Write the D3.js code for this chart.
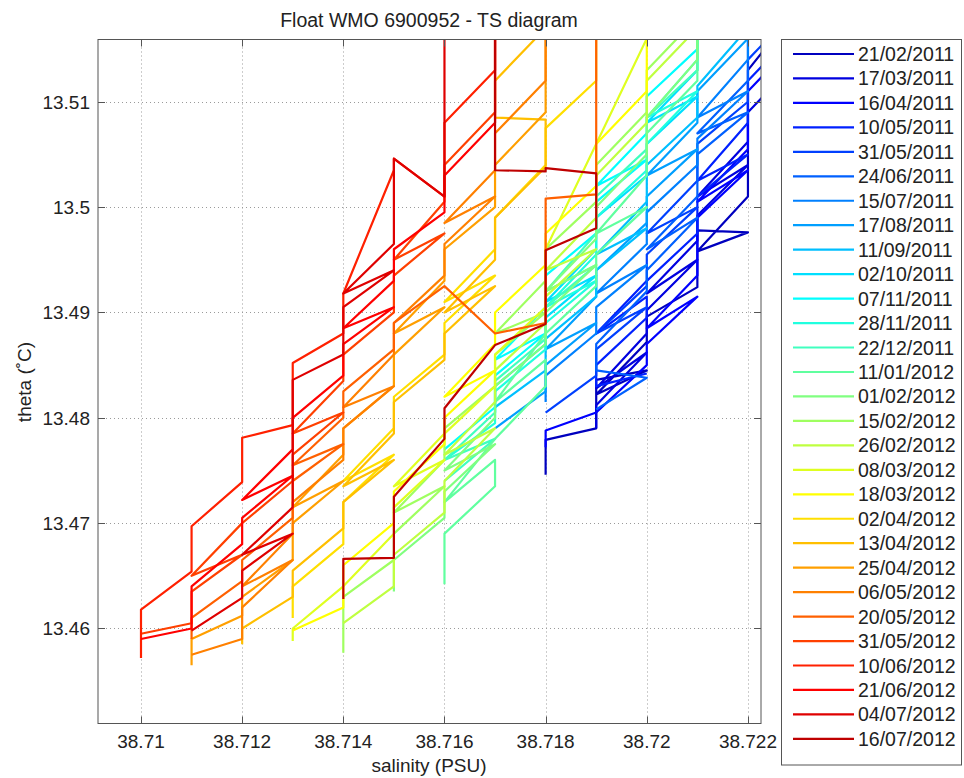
<!DOCTYPE html>
<html lang="en">
<head>
<meta charset="UTF-8">
<title>Float WMO 6900952 - TS diagram</title>
<style>
  body { margin: 0; background: #fff; }
  text { font-family: "Liberation Sans", Arial, sans-serif; fill: #222; }
</style>
</head>
<body>
<div id="chart"></div>
<script src="https://d3js.org/d3.v7.min.js"></script>
<script>
// legend labels, one per profile
const dates = ["21/02/2011","17/03/2011","16/04/2011","10/05/2011","31/05/2011","24/06/2011",
  "15/07/2011","17/08/2011","11/09/2011","02/10/2011","07/11/2011","28/11/2011","22/12/2011",
  "11/01/2012","01/02/2012","15/02/2012","26/02/2012","08/03/2012","18/03/2012","02/04/2012",
  "13/04/2012","25/04/2012","06/05/2012","20/05/2012","31/05/2012","10/06/2012","21/06/2012",
  "04/07/2012","16/07/2012"];

const xTicks = [38.71, 38.712, 38.714, 38.716, 38.718, 38.72, 38.722];
const xTickLabels = ["38.71","38.712","38.714","38.716","38.718","38.72","38.722"];
const yTicks = [13.46, 13.47, 13.48, 13.49, 13.5, 13.51];
const yTickLabels = ["13.46","13.47","13.48","13.49","13.5","13.51"];

// profiles: [salinity, theta]
const p1 = [[38.718,13.4746],[38.718,13.4779],[38.719,13.4790],[38.719,13.4836],[38.720,13.4845],[38.719,13.4822],[38.720,13.4872],[38.720,13.4896],[38.721,13.4924],[38.721,13.4978],[38.722,13.4976],[38.721,13.4958],[38.722,13.5010],[38.722,13.5130],[38.723,13.5190]];
const p2 = [[38.719,13.4790],[38.719,13.4812],[38.720,13.4862],[38.719,13.4828],[38.720,13.4880],[38.720,13.4902],[38.721,13.4950],[38.720,13.4918],[38.721,13.4968],[38.721,13.4992],[38.722,13.5040],[38.721,13.5010],[38.722,13.5062],[38.722,13.5090],[38.723,13.5140]];
const p3 = [[38.718,13.4772],[38.718,13.4788],[38.719,13.4805],[38.720,13.4850],[38.720,13.4870],[38.721,13.4915],[38.720,13.4885],[38.721,13.4935],[38.721,13.4990],[38.722,13.5035],[38.721,13.5005],[38.722,13.5055],[38.722,13.5110],[38.723,13.5160]];
const p4 = [[38.720,13.4842],[38.719,13.4830],[38.719,13.4850],[38.720,13.4895],[38.720,13.4915],[38.719,13.4880],[38.720,13.4930],[38.721,13.4975],[38.721,13.5010],[38.722,13.5050],[38.721,13.5025],[38.722,13.5080],[38.722,13.5120],[38.723,13.5170]];
const p5 = [[38.718,13.4805],[38.719,13.4840],[38.719,13.4865],[38.720,13.4905],[38.719,13.4880],[38.720,13.4925],[38.720,13.4955],[38.721,13.5000],[38.720,13.4975],[38.721,13.5025],[38.721,13.5060],[38.722,13.5100],[38.722,13.5140],[38.723,13.5190]];
const p6 = [[38.719,13.4808],[38.720,13.4838],[38.719,13.4845],[38.719,13.4870],[38.720,13.4920],[38.720,13.4940],[38.721,13.4990],[38.720,13.4960],[38.721,13.5010],[38.721,13.5050],[38.722,13.5090],[38.721,13.5070],[38.722,13.5120],[38.722,13.5160]];
const p7 = [[38.718,13.4815],[38.718,13.4840],[38.719,13.4880],[38.719,13.4905],[38.720,13.4945],[38.719,13.4918],[38.720,13.4965],[38.720,13.4995],[38.721,13.5040],[38.721,13.5065],[38.722,13.5110],[38.721,13.5085],[38.722,13.5140],[38.722,13.5180]];
const p8 = [[38.717,13.4790],[38.718,13.4825],[38.718,13.4850],[38.719,13.4890],[38.718,13.4865],[38.719,13.4915],[38.719,13.4940],[38.720,13.4985],[38.720,13.5010],[38.721,13.5055],[38.720,13.5030],[38.721,13.5080],[38.721,13.5110],[38.722,13.5160]];
const p9 = [[38.717,13.4810],[38.718,13.4845],[38.718,13.4875],[38.719,13.4915],[38.719,13.4940],[38.720,13.4980],[38.719,13.4955],[38.720,13.5005],[38.720,13.5040],[38.721,13.5085],[38.721,13.5115],[38.722,13.5170]];
const p10 = [[38.717,13.4805],[38.717,13.4830],[38.718,13.4870],[38.718,13.4895],[38.719,13.4935],[38.718,13.4910],[38.719,13.4960],[38.719,13.4990],[38.720,13.5030],[38.720,13.5060],[38.721,13.5105],[38.720,13.5080],[38.721,13.5130],[38.721,13.5170]];
const p11 = [[38.716,13.4770],[38.717,13.4810],[38.717,13.4840],[38.718,13.4880],[38.717,13.4855],[38.718,13.4905],[38.718,13.4935],[38.719,13.4975],[38.719,13.5005],[38.720,13.5045],[38.719,13.5020],[38.720,13.5070],[38.720,13.5105],[38.721,13.5150],[38.721,13.5180]];
const p12 = [[38.716,13.4760],[38.717,13.4795],[38.717,13.4825],[38.718,13.4865],[38.718,13.4890],[38.719,13.4930],[38.718,13.4905],[38.719,13.4955],[38.719,13.4990],[38.720,13.5035],[38.720,13.5060],[38.721,13.5110],[38.720,13.5085],[38.721,13.5140],[38.721,13.5180]];
const p13 = [[38.716,13.4740],[38.717,13.4780],[38.716,13.4760],[38.717,13.4805],[38.717,13.4835],[38.718,13.4875],[38.718,13.4905],[38.719,13.4945],[38.718,13.4920],[38.719,13.4975],[38.719,13.5010],[38.720,13.5055],[38.720,13.5085],[38.721,13.5130],[38.721,13.5180]];
const p14 = [[38.716,13.4642],[38.716,13.4690],[38.717,13.4735],[38.717,13.4760],[38.716,13.4720],[38.717,13.4780],[38.718,13.4830],[38.718,13.4855],[38.717,13.4815],[38.718,13.4880],[38.719,13.4925],[38.719,13.4955],[38.720,13.5000],[38.719,13.4975],[38.720,13.5030],[38.720,13.5070],[38.721,13.5120],[38.721,13.5180]];
const p15 = [[38.715,13.4635],[38.715,13.4665],[38.716,13.4705],[38.716,13.4730],[38.717,13.4775],[38.716,13.4750],[38.717,13.4800],[38.717,13.4830],[38.718,13.4870],[38.718,13.4900],[38.719,13.4945],[38.718,13.4920],[38.719,13.4970],[38.719,13.5000],[38.720,13.5050],[38.720,13.5085],[38.721,13.5140],[38.721,13.5180]];
const p16 = [[38.714,13.4577],[38.714,13.4630],[38.715,13.4665],[38.715,13.4690],[38.716,13.4735],[38.715,13.4710],[38.716,13.4760],[38.716,13.4790],[38.717,13.4830],[38.717,13.4860],[38.718,13.4900],[38.717,13.4880],[38.718,13.4930],[38.718,13.4960],[38.719,13.5005],[38.719,13.5040],[38.720,13.5090],[38.720,13.5130],[38.721,13.5180]];
const p17 = [[38.714,13.4605],[38.715,13.4640],[38.715,13.4670],[38.716,13.4710],[38.716,13.4740],[38.717,13.4790],[38.716,13.4765],[38.717,13.4815],[38.717,13.4845],[38.718,13.4890],[38.718,13.4915],[38.719,13.4960],[38.718,13.4940],[38.719,13.4990],[38.719,13.5030],[38.720,13.5080],[38.720,13.5120],[38.721,13.5170]];
const p18 = [[38.713,13.4588],[38.713,13.4600],[38.714,13.4640],[38.715,13.4690],[38.715,13.4715],[38.716,13.4760],[38.715,13.4735],[38.716,13.4785],[38.717,13.4830],[38.717,13.4860],[38.718,13.4905],[38.718,13.4960],[38.720,13.5160]];
const p19 = [[38.713,13.4598],[38.714,13.4620],[38.714,13.4660],[38.715,13.4700],[38.715,13.4730],[38.716,13.4775],[38.716,13.4800],[38.717,13.4845],[38.716,13.4820],[38.717,13.4870],[38.717,13.4900],[38.718,13.4945],[38.718,13.4975],[38.719,13.5020],[38.719,13.5060],[38.720,13.5110],[38.720,13.5170]];
const p20 = [[38.713,13.4610],[38.713,13.4640],[38.714,13.4680],[38.714,13.4720],[38.715,13.4765],[38.714,13.4740],[38.715,13.4790],[38.715,13.4820],[38.716,13.4860],[38.716,13.4890],[38.717,13.4935],[38.716,13.4910],[38.717,13.4960],[38.717,13.4990],[38.718,13.5040],[38.718,13.5075],[38.719,13.5120],[38.719,13.5170]];
const p21 = [[38.712,13.4585],[38.712,13.4600],[38.713,13.4630],[38.713,13.4655],[38.714,13.4695],[38.714,13.4720],[38.715,13.4760],[38.714,13.4735],[38.715,13.4785],[38.715,13.4815],[38.716,13.4855],[38.716,13.4880],[38.717,13.4925],[38.716,13.4900],[38.717,13.4950],[38.717,13.4990],[38.718,13.5038],[38.718,13.5083],[38.717,13.5085],[38.717,13.5120],[38.718,13.5170]];
const p22 = [[38.711,13.4565],[38.711,13.4590],[38.712,13.4612],[38.712,13.4630],[38.713,13.4665],[38.713,13.4700],[38.714,13.4740],[38.713,13.4715],[38.714,13.4765],[38.714,13.4790],[38.715,13.4830],[38.715,13.4860],[38.716,13.4905],[38.715,13.4880],[38.716,13.4930],[38.716,13.4960],[38.717,13.5000],[38.717,13.5040],[38.718,13.5090],[38.718,13.5140],[38.718,13.5170]];
const p23 = [[38.711,13.4575],[38.712,13.4590],[38.712,13.4620],[38.713,13.4665],[38.712,13.4640],[38.713,13.4690],[38.713,13.4720],[38.714,13.4760],[38.714,13.4790],[38.715,13.4830],[38.714,13.4810],[38.715,13.4860],[38.715,13.4890],[38.716,13.4935],[38.716,13.4965],[38.717,13.5010],[38.716,13.4985],[38.717,13.5035],[38.717,13.5070],[38.718,13.5120],[38.718,13.5170]];
const p24 = [[38.711,13.4590],[38.711,13.4610],[38.712,13.4645],[38.712,13.4665],[38.713,13.4705],[38.713,13.4740],[38.714,13.4775],[38.713,13.4755],[38.714,13.4800],[38.714,13.4825],[38.715,13.4865],[38.715,13.4890],[38.716,13.4925],[38.717,13.4880],[38.718,13.4890],[38.718,13.5008],[38.719,13.5012],[38.719,13.5170]];
const p25 = [[38.710,13.4595],[38.711,13.4605],[38.711,13.4635],[38.712,13.4670],[38.711,13.4650],[38.712,13.4700],[38.713,13.4740],[38.713,13.4765],[38.714,13.4805],[38.713,13.4785],[38.714,13.4835],[38.714,13.4860],[38.715,13.4900],[38.715,13.4935],[38.716,13.4975],[38.715,13.4950],[38.716,13.5005],[38.716,13.5040],[38.717,13.5090],[38.717,13.5170]];
const p26 = [[38.710,13.4572],[38.710,13.4618],[38.711,13.4654],[38.711,13.4697],[38.712,13.4739],[38.712,13.4781],[38.713,13.4793],[38.713,13.4852],[38.714,13.4880],[38.714,13.4918],[38.715,13.5035],[38.715,13.5046],[38.716,13.5010],[38.716,13.5080],[38.717,13.5130],[38.717,13.5170]];
const p27 = [[38.710,13.4590],[38.711,13.4600],[38.711,13.4640],[38.712,13.4680],[38.712,13.4705],[38.713,13.4745],[38.712,13.4722],[38.713,13.4770],[38.713,13.4800],[38.714,13.4840],[38.714,13.4870],[38.715,13.4905],[38.714,13.4885],[38.715,13.4930],[38.715,13.4960],[38.716,13.4995],[38.716,13.5030],[38.717,13.5080],[38.717,13.5170]];
const p28 = [[38.711,13.4598],[38.712,13.4629],[38.712,13.4655],[38.713,13.4690],[38.712,13.4670],[38.713,13.4715],[38.713,13.4836],[38.714,13.4860],[38.714,13.4905],[38.715,13.4940],[38.714,13.4918],[38.715,13.4965],[38.715,13.5046],[38.716,13.5010],[38.716,13.5170]];
const p29 = [[38.714,13.4628],[38.714,13.4666],[38.715,13.4667],[38.715,13.4725],[38.716,13.4780],[38.716,13.4809],[38.717,13.4869],[38.718,13.4889],[38.718,13.4959],[38.719,13.4980],[38.719,13.5032],[38.718,13.5037],[38.718,13.5034],[38.717,13.5035],[38.717,13.5170]];

const profiles = [p1,p2,p3,p4,p5,p6,p7,p8,p9,p10,p11,p12,p13,p14,p15,p16,p17,p18,p19,p20,
  p21,p22,p23,p24,p25,p26,p27,p28,p29];

// matlab jet colormap with m entries
function jet(m) {
  const n = Math.ceil(m / 4);
  const u = [];
  for (let i = 1; i <= n; i++) u.push(i / n);
  for (let i = 1; i < n; i++) u.push(1);
  for (let i = n; i >= 1; i--) u.push(i / n);
  const g0 = Math.ceil(n / 2) - (m % 4 === 1 ? 1 : 0);
  const cols = d3.range(m).map(() => [0, 0, 0]);
  u.forEach((v, j) => {
    const g = g0 + j + 1, r = g + n, b = g - n;
    if (g >= 1 && g <= m) cols[g - 1][1] = v;
    if (r >= 1 && r <= m) cols[r - 1][0] = v;
    if (b >= 1 && b <= m) cols[b - 1][2] = v;
  });
  return cols.map(c => d3.rgb(c[0] * 255, c[1] * 255, c[2] * 255).formatHex());
}
const colors = jet(profiles.length);

const W = 964, H = 778;
const plot = { left: 98, top: 39.5, right: 761, bottom: 723.5 };

const svg = d3.select("#chart").append("svg")
    .attr("width", W).attr("height", H);
svg.append("rect").attr("width", W).attr("height", H).attr("fill", "#fff");

const x = d3.scaleLinear().domain([38.70915, 38.722258]).range([plot.left, plot.right]);
const y = d3.scaleLinear().domain([13.45098, 13.51591]).range([plot.bottom, plot.top]);

svg.append("clipPath").attr("id", "clip")
  .append("rect")
    .attr("x", plot.left).attr("y", plot.top)
    .attr("width", plot.right - plot.left).attr("height", plot.bottom - plot.top);

// grid
const grid = svg.append("g").attr("stroke", "#9a9a9a").attr("stroke-width", 1)
    .attr("stroke-dasharray", "1,3");
grid.selectAll(".gx").data(xTicks).enter().append("line")
    .attr("x1", d => Math.round(x(d)) + 0.5).attr("x2", d => Math.round(x(d)) + 0.5)
    .attr("y1", plot.top).attr("y2", plot.bottom);
grid.selectAll(".gy").data(yTicks).enter().append("line")
    .attr("y1", d => Math.round(y(d)) + 0.5).attr("y2", d => Math.round(y(d)) + 0.5)
    .attr("x1", plot.left).attr("x2", plot.right);

// profiles
const line = d3.line().x(d => x(d[0])).y(d => y(d[1]));
svg.append("g").attr("clip-path", "url(#clip)")
  .selectAll("path").data(profiles).enter().append("path")
    .attr("d", line)
    .attr("fill", "none")
    .attr("stroke", (d, i) => colors[i])
    .attr("stroke-width", 2.2)
    .attr("stroke-linejoin", "round");

// axes (matlab style: ticks inside, box)
const tickLen = 7;
const axisG = svg.append("g").attr("stroke", "#555").attr("stroke-width", 1);
axisG.append("rect")
    .attr("x", plot.left).attr("y", plot.top)
    .attr("width", plot.right - plot.left).attr("height", plot.bottom - plot.top)
    .attr("fill", "none");
xTicks.forEach(t => {
  const px = Math.round(x(t)) + 0.5;
  axisG.append("line").attr("x1", px).attr("x2", px).attr("y1", plot.bottom).attr("y2", plot.bottom - tickLen);
  axisG.append("line").attr("x1", px).attr("x2", px).attr("y1", plot.top).attr("y2", plot.top + tickLen);
});
yTicks.forEach(t => {
  const py = Math.round(y(t)) + 0.5;
  axisG.append("line").attr("y1", py).attr("y2", py).attr("x1", plot.left).attr("x2", plot.left + tickLen);
  axisG.append("line").attr("y1", py).attr("y2", py).attr("x1", plot.right).attr("x2", plot.right - tickLen);
});

svg.selectAll(".xl").data(xTicks).enter().append("text")
    .attr("x", d => x(d)).attr("y", 748)
    .attr("text-anchor", "middle").attr("font-size", 19)
    .text((d, i) => xTickLabels[i]);
svg.selectAll(".yl").data(yTicks).enter().append("text")
    .attr("x", 90).attr("y", d => y(d) + 7)
    .attr("text-anchor", "end").attr("font-size", 19)
    .text((d, i) => yTickLabels[i]);

svg.append("text").attr("x", 429).attr("y", 772)
    .attr("text-anchor", "middle").attr("font-size", 19)
    .text("salinity (PSU)");
svg.append("text")
    .attr("transform", "translate(31,382) rotate(-90)")
    .attr("text-anchor", "middle").attr("font-size", 19)
    .text("theta (\u02DAC)");
svg.append("text").attr("x", 429).attr("y", 27)
    .attr("text-anchor", "middle").attr("font-size", 19.5)
    .text("Float WMO 6900952 - TS diagram");

// legend
const leg = svg.append("g");
leg.append("rect")
    .attr("x", 781.5).attr("y", 39.5).attr("width", 180).attr("height", 725.5)
    .attr("fill", "#fff").attr("stroke", "#555");
const rowY = i => 54 + i * 24.46;
leg.selectAll(".ll").data(dates).enter().append("line")
    .attr("x1", 793).attr("x2", 854)
    .attr("y1", (d, i) => rowY(i)).attr("y2", (d, i) => rowY(i))
    .attr("stroke", (d, i) => colors[i]).attr("stroke-width", 2.2);
leg.selectAll(".lt").data(dates).enter().append("text")
    .attr("x", 858).attr("y", (d, i) => rowY(i) + 7)
    .attr("font-size", 19.5)
    .text(d => d);
</script>
</body>
</html>
